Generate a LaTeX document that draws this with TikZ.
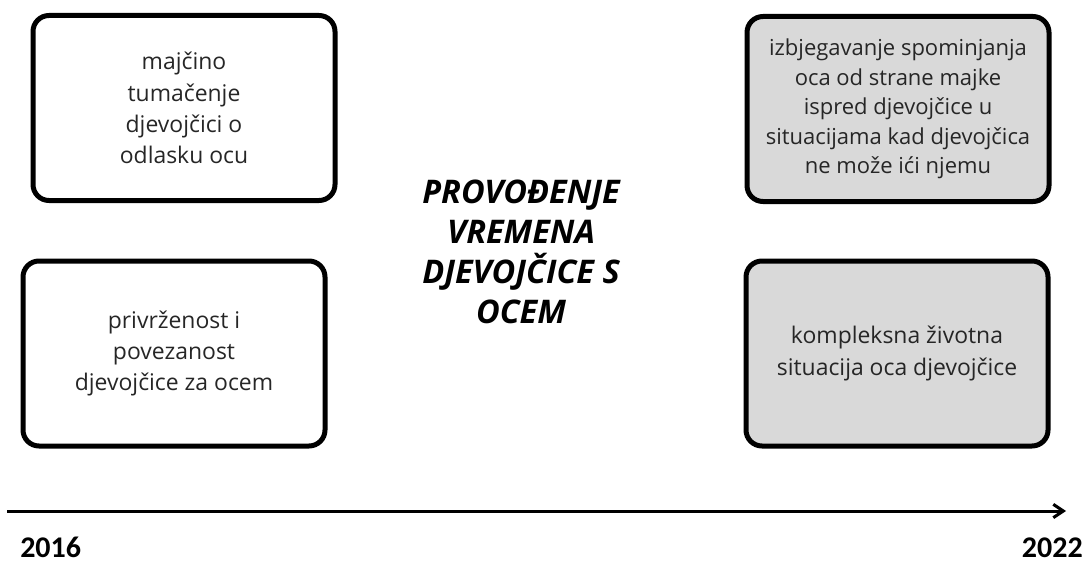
\documentclass[tikz,border=0pt]{standalone}
\usepackage{fontspec}
\setmainfont{Open Sans}
\newfontfamily\yearfont{Carlito}
\usetikzlibrary{arrows.meta}
\definecolor{boxgray}{HTML}{D9D9D9}
\definecolor{txtgray}{HTML}{262626}
\tikzset{
  eventbox/.style={draw=black, line width=3.75pt, rounded corners=12pt,
    minimum width=226.5pt, minimum height=138.75pt, align=center,
    text=txtgray, font=\fontsize{17.2pt}{23.4pt}\selectfont},
  laterbox/.style={eventbox, fill=boxgray},
  yearlabel/.style={font=\yearfont\bfseries\fontsize{22.5pt}{27pt}\selectfont, inner sep=0pt}
}
\begin{document}
\begin{tikzpicture}[x=0.75pt, y=-0.75pt]
      \useasboundingbox (0,0) rectangle (1088,563);
      % LEFT COLUMN (2016)
      \node[eventbox] (tumacenje) at (184,108) {maj\v{c}ino\\tuma\v{c}enje\\djevoj\v{c}ici o\\odlasku ocu};
      \node[eventbox] (privrzenost) at (174,353.5) {privr\v{z}enost i\\povezanost\\djevoj\v{c}ice za ocem};
      % RIGHT COLUMN (2022)
      \node[laterbox, font=\fontsize{16.5pt}{22.2pt}\selectfont] (izbjegavanje) at (898,109) {izbjegavanje spominjanja\\oca od strane majke\\ispred djevoj\v{c}ice u\\situacijama kad djevoj\v{c}ica\\ne mo\v{z}e i\'{c}i njemu};
      \node[laterbox] (situacija) at (897,353.5) {kompleksna \v{z}ivotna\\situacija oca djevoj\v{c}ice};
      % CENTRE TITLE
      \node[align=center, font=\fontsize{24.4pt}{30pt}\selectfont\bfseries\itshape] (naslov) at (521,252)
        {PROVO\DJ ENJE\\VREMENA\\DJEVOJ\v{C}ICE S\\OCEM};
      % TIME AXIS
      \coordinate (pocetak) at (7,511);
      \coordinate (kraj) at (1066,511);
      \draw[line width=2.25pt, -{Straight Barb[length=7.5pt,width=10pt]}] (pocetak) -- (kraj);
      \node[yearlabel, anchor=base west] (godina1) at (20,557) {2016};
      \node[yearlabel, anchor=base east] (godina2) at (1083,557) {2022};
\end{tikzpicture}
\end{document}
